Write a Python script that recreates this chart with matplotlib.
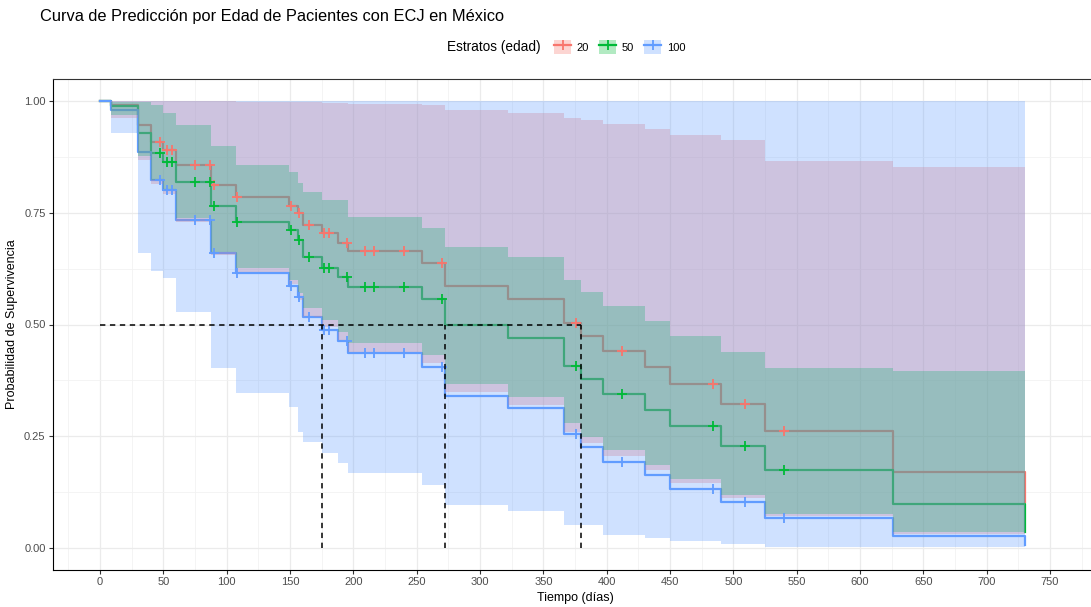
import numpy as np
import matplotlib
matplotlib.use("Agg")
import matplotlib.pyplot as plt
from matplotlib.patches import Patch
from matplotlib.lines import Line2D
from matplotlib.ticker import MultipleLocator, FixedLocator

plt.rcParams['font.family'] = ['Liberation Sans', 'DejaVu Sans']

# tiempos de evento (dias), compartidos por los tres estratos
times = [0, 9, 30, 40, 50, 60, 88, 107, 149, 156, 160, 175, 188, 196,
         254, 272, 322, 366, 380, 397, 430, 450, 490, 525, 626, 730]

surv_20 = [1.0, 0.990, 0.946, 0.909, 0.890, 0.857, 0.812, 0.786, 0.765, 0.749, 0.723, 0.704, 0.682,
           0.664, 0.638, 0.587, 0.558, 0.504, 0.474, 0.441, 0.406, 0.366, 0.323, 0.261, 0.171, 0.104]
lower_20 = [1.0, 0.962, 0.868, 0.814, 0.792, 0.730, 0.655, 0.618, 0.590, 0.555, 0.517, 0.495, 0.465,
            0.439, 0.413, 0.350, 0.320, 0.260, 0.234, 0.205, 0.174, 0.145, 0.111, 0.072, 0.031, 0.031]
upper_20 = [1.0, 1.0, 1.0, 1.0, 1.0, 1.0, 1.0, 0.998, 0.998, 0.998, 0.997, 0.996, 0.995,
            0.993, 0.990, 0.979, 0.972, 0.961, 0.957, 0.948, 0.937, 0.923, 0.913, 0.866, 0.852, 0.852]

surv_50 = [1.0, 0.988, 0.928, 0.883, 0.864, 0.819, 0.764, 0.730, 0.711, 0.689, 0.652, 0.626, 0.607,
           0.583, 0.556, 0.499, 0.469, 0.408, 0.379, 0.344, 0.309, 0.273, 0.228, 0.174, 0.098, 0.037]
lower_50 = [1.0, 0.969, 0.876, 0.823, 0.800, 0.738, 0.663, 0.626, 0.600, 0.570, 0.536, 0.510, 0.484,
            0.458, 0.432, 0.368, 0.338, 0.279, 0.249, 0.219, 0.186, 0.154, 0.119, 0.077, 0.036, 0.036]
upper_50 = [1.0, 0.998, 0.997, 0.991, 0.973, 0.946, 0.900, 0.857, 0.842, 0.816, 0.797, 0.779, 0.779,
            0.741, 0.715, 0.674, 0.652, 0.600, 0.573, 0.541, 0.508, 0.474, 0.439, 0.402, 0.395, 0.395]

surv_100 = [1.0, 0.980, 0.886, 0.823, 0.800, 0.734, 0.659, 0.616, 0.586, 0.562, 0.517, 0.488, 0.462,
            0.436, 0.406, 0.340, 0.3125, 0.254, 0.226, 0.193, 0.163, 0.131, 0.102, 0.067, 0.028, 0.007]
lower_100 = [1.0, 0.929, 0.660, 0.620, 0.605, 0.529, 0.402, 0.346, 0.316, 0.260, 0.238, 0.212, 0.190,
             0.168, 0.142, 0.097, 0.082, 0.052, 0.052, 0.030, 0.022, 0.015, 0.008, 0.003, 0.003, 0.003]
upper_100 = [1.0, 1.0, 1.0, 1.0, 1.0, 1.0, 1.0, 1.0, 1.0, 1.0, 1.0, 1.0, 1.0,
             1.0, 1.0, 1.0, 1.0, 1.0, 1.0, 1.0, 1.0, 1.0, 1.0, 1.0, 1.0, 1.0]

# tiempos censurados
censor_times = [47, 53, 57, 75, 87, 90, 108, 151, 157, 165, 177, 181, 195, 209, 216, 240,
                270, 376, 412, 484, 509, 540]

labels = ['20', '50', '100']
colors = ['#F8766D', '#00BA38', '#619CFF']

W, H = 1091, 607
fig = plt.figure(figsize=(W / 100, H / 100), dpi=100)
ax = fig.add_axes([52.5 / W, (H - 570.4) / H, 1045 / W, (570.4 - 78.6) / H])

t = np.array(times)
curves = [(surv_20, lower_20, upper_20), (surv_50, lower_50, upper_50), (surv_100, lower_100, upper_100)]

medians = []
for (s, lo, hi), c in zip(curves, colors):
    s = np.array(s)
    ax.step(t, s, where='post', color=c, lw=1.6, zorder=2)
    ax.fill_between(t, lo, hi, step='post', color=c, alpha=0.3, lw=0, zorder=3)
    idx = np.searchsorted(t, censor_times, side='right') - 1
    ax.plot(censor_times, s[idx], ls='none', marker='+', ms=7, mew=1.3, color=c, zorder=4)
    medians.append(t[np.argmax(s <= 0.5)])

# lineas de mediana
ax.plot([0, max(medians)], [0.5, 0.5], color='black', lw=1.1, dashes=(3.5, 3), zorder=5)
for m in medians:
    ax.plot([m, m], [0, 0.5], color='black', lw=1.1, dashes=(3.5, 3), zorder=5)

ax.set_xlim(-37.5, 787.5)
ax.set_ylim(-0.05, 1.05)
ax.xaxis.set_major_locator(MultipleLocator(50))
ax.xaxis.set_minor_locator(MultipleLocator(25))
ax.yaxis.set_major_locator(FixedLocator([0, 0.25, 0.5, 0.75, 1.0]))
ax.yaxis.set_minor_locator(FixedLocator([0.125, 0.375, 0.625, 0.875]))
ax.set_yticklabels(['0.00', '0.25', '0.50', '0.75', '1.00'])
ax.grid(which='major', color='#EBEBEB', lw=0.9)
ax.grid(which='minor', color='#F2F2F2', lw=0.6)
ax.set_axisbelow(True)
ax.tick_params(which='major', length=3, width=0.8, color='#333333', labelcolor='#4D4D4D',
               labelsize=8, pad=2)
ax.tick_params(which='minor', length=0)
for sp in ax.spines.values():
    sp.set_color('#333333')
    sp.set_linewidth(0.8)
ax.spines['left'].set_color('black')
ax.spines['bottom'].set_color('black')

ax.set_xlabel('Tiempo (días)', fontsize=9, labelpad=3)
ax.set_ylabel('Probabilidad de Supervivencia', fontsize=9, labelpad=4)

fig.text(40 / W, 1 - 17 / H, 'Curva de Predicción por Edad de Pacientes con ECJ en México',
         fontsize=11.8, va='center', ha='left')

# leyenda
fig.text(447 / W, 1 - 47 / H, 'Estratos (edad)', fontsize=9.8, va='center', ha='left')
handles = []
for c in colors:
    handles.append((Patch(facecolor=c, alpha=0.3, edgecolor='none'),
                    Line2D([], [], color=c, lw=1.6, marker='+', ms=7, mew=1.3)))
fig.legend(handles, labels, ncol=3, loc='center left', bbox_to_anchor=(554 / W, 1 - 47 / H),
           frameon=False, fontsize=8, handlelength=1.55, handleheight=1.55,
           columnspacing=0.9, handletextpad=0.5, borderpad=0, borderaxespad=0)

fig.savefig('out.png', dpi=100)
